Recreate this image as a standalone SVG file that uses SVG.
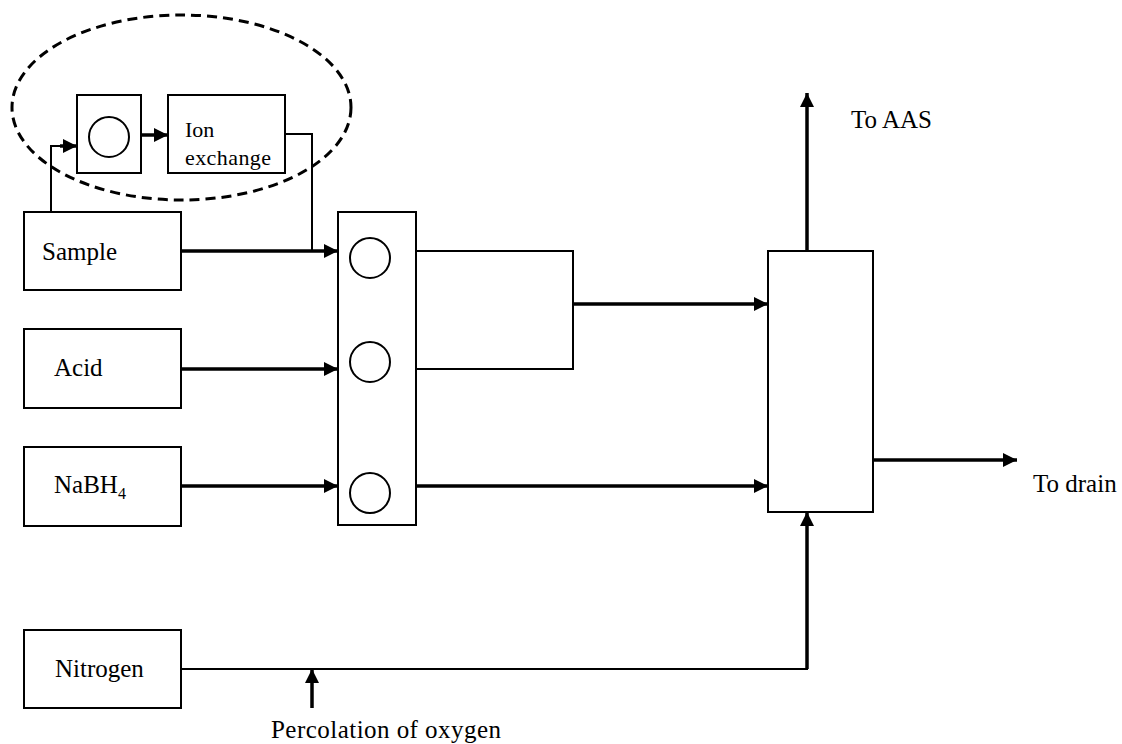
<svg xmlns="http://www.w3.org/2000/svg" width="1122" height="744" viewBox="0 0 1122 744">
<style>
.box{fill:#fff;stroke:#000;stroke-width:2}
.circ{fill:none;stroke:#000;stroke-width:2}
.thin{fill:none;stroke:#000;stroke-width:2}
.thick{fill:none;stroke:#000;stroke-width:3.5}
.lbl{font-family:"Liberation Serif","Times New Roman",serif;font-size:25px;fill:#000}
.sm{font-size:22px}
</style>
<defs>
<marker id="ah" markerUnits="userSpaceOnUse" markerWidth="15" markerHeight="14" refX="14" refY="7" orient="auto">
<path d="M0,0 L14,7 L0,14 z" fill="#000"/>
</marker>
</defs>
<rect width="1122" height="744" fill="#fff"/>

<g id="preconcentration">
<ellipse cx="181.5" cy="107.5" rx="169.5" ry="92.5" fill="none" stroke="#000" stroke-width="3" stroke-dasharray="10,6"/>
</g>
<g id="pre-pump">
<rect class="box" x="77" y="95" width="64" height="78"/>
<circle class="circ" cx="109" cy="137" r="20"/>
</g>
<g id="ion-exchange">
<rect class="box" x="168" y="95" width="117" height="78"/>
<text class="lbl sm" x="185" y="137">Ion</text>
<text class="lbl sm" x="185" y="165" textLength="86">exchange</text>
</g>
<g id="sample">
<rect class="box" x="24" y="212" width="157" height="78"/>
<text class="lbl" x="42" y="260">Sample</text>
</g>
<g id="acid">
<rect class="box" x="24" y="329" width="157" height="79"/>
<text class="lbl" x="54" y="376">Acid</text>
</g>
<g id="nabh4">
<rect class="box" x="24" y="447" width="157" height="79"/>
<text class="lbl" x="54" y="493">NaBH<tspan font-size="16" dy="6">4</tspan></text>
</g>
<g id="nitrogen">
<rect class="box" x="24" y="630" width="157" height="78"/>
<text class="lbl" x="55" y="677">Nitrogen</text>
</g>
<g id="pump">
<rect class="box" x="338" y="212" width="78" height="313"/>
<circle class="circ" cx="370" cy="258" r="20"/>
<circle class="circ" cx="370" cy="362" r="20"/>
<circle class="circ" cx="370" cy="493" r="20"/>
</g>
<g id="separator">
<rect class="box" x="768" y="251" width="105" height="261"/>
</g>
<g id="labels">
<text class="lbl" x="851" y="128">To AAS</text>
<text class="lbl" x="1033" y="492">To drain</text>
<text class="lbl" x="271" y="738" font-size="26" textLength="230">Percolation of oxygen</text>
</g>

<g id="connectors">
<polyline class="thin" points="51,212 51,146 62,146"/>
<line class="thick" x1="60" y1="146" x2="77" y2="146" marker-end="url(#ah)"/>
<line class="thick" x1="141" y1="135" x2="168" y2="135" marker-end="url(#ah)"/>
<polyline class="thin" points="285,134 312,134 312,251"/>
<line class="thick" x1="181" y1="251" x2="338" y2="251" marker-end="url(#ah)"/>
<line class="thick" x1="181" y1="369" x2="338" y2="369" marker-end="url(#ah)"/>
<line class="thick" x1="181" y1="486" x2="338" y2="486" marker-end="url(#ah)"/>
<polyline class="thin" points="416,251 573,251 573,369 416,369"/>
<line class="thick" x1="573" y1="304" x2="768" y2="304" marker-end="url(#ah)"/>
<line class="thick" x1="416" y1="486" x2="768" y2="486" marker-end="url(#ah)"/>
<line class="thick" x1="807" y1="251" x2="807" y2="93" marker-end="url(#ah)"/>
<line class="thick" x1="873" y1="460" x2="1017" y2="460" marker-end="url(#ah)"/>
<polyline class="thin" points="181,669 807,669 807,640" stroke-width="2.5"/>
<line class="thick" x1="807" y1="669" x2="807" y2="512" marker-end="url(#ah)"/>
<line class="thick" x1="312" y1="708" x2="312" y2="669" marker-end="url(#ah)"/>
</g>
</svg>
